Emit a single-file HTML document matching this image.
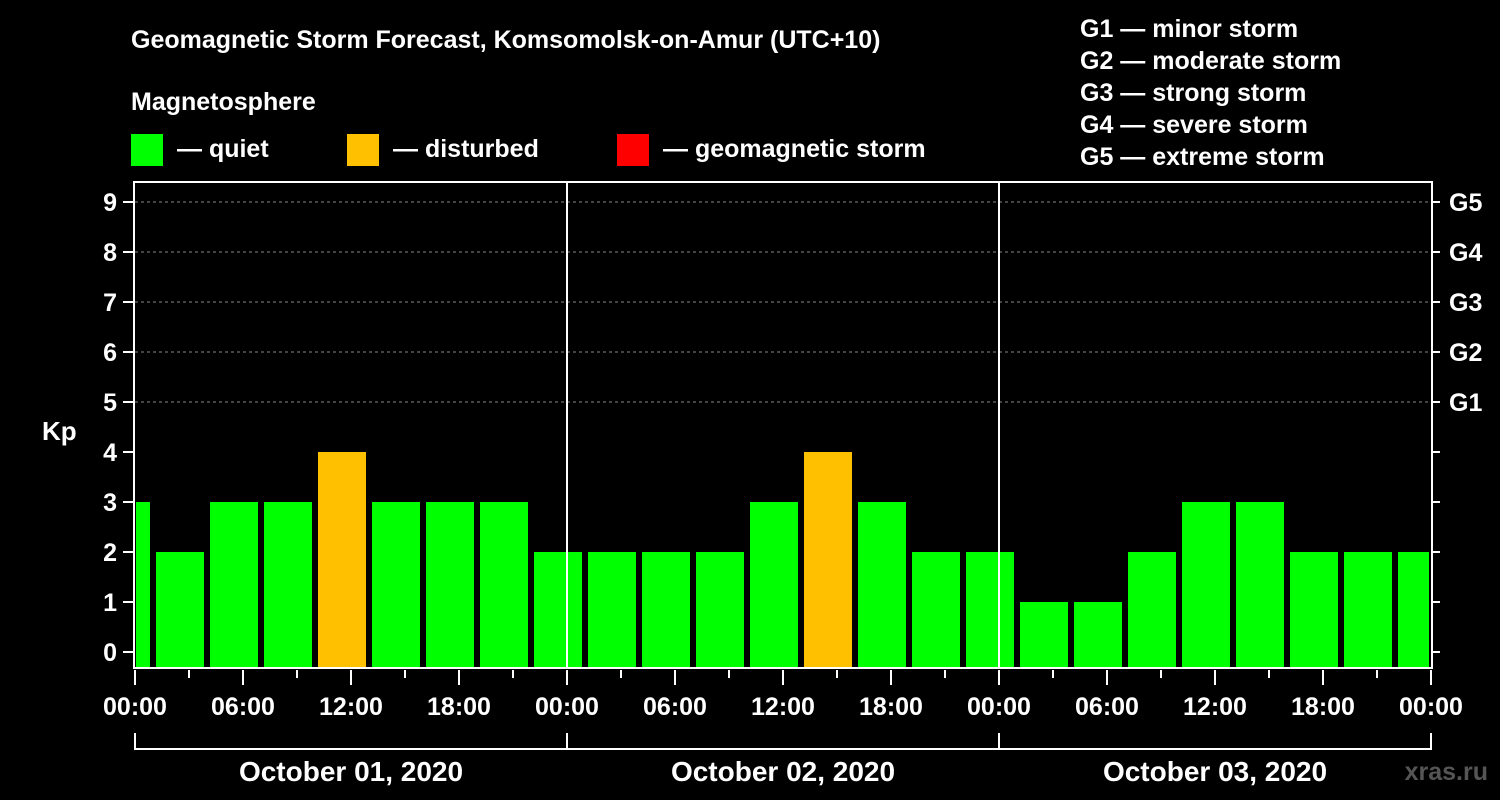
<!DOCTYPE html>
<html><head><meta charset="utf-8"><style>
html,body{margin:0;padding:0;background:#000;}
svg{display:block;font-family:"Liberation Sans",Arial,sans-serif;font-weight:bold;}
</style></head><body>
<svg id="c" width="1500" height="800" xmlns="http://www.w3.org/2000/svg">
<rect width="1500" height="800" fill="#000"/>
<text x="131" y="48" fill="#fff" font-size="25">Geomagnetic Storm Forecast, Komsomolsk-on-Amur (UTC+10)</text>
<text x="131" y="110" fill="#fff" font-size="25">Magnetosphere</text>
<g><rect x="131" y="134" width="32" height="32" fill="#00ff00"/><text x="177" y="157" fill="#fff" font-size="25">— quiet</text></g>
<g><rect x="347" y="134" width="32" height="32" fill="#ffc000"/><text x="393" y="157" fill="#fff" font-size="25">— disturbed</text></g>
<g><rect x="617" y="134" width="32" height="32" fill="#ff0000"/><text x="663" y="157" fill="#fff" font-size="25">— geomagnetic storm</text></g>
<g fill="#fff" font-size="25">
<text x="1080" y="37">G1 — minor storm</text><text x="1080" y="69">G2 — moderate storm</text><text x="1080" y="101">G3 — strong storm</text><text x="1080" y="133">G4 — severe storm</text><text x="1080" y="165">G5 — extreme storm</text>
</g>
<text x="42" y="440" fill="#fff" font-size="26">Kp</text>
<text x="1488" y="780" fill="#555" font-size="25" text-anchor="end">xras.ru</text>
<g id="grid"></g><g id="bars"></g><g id="axes"></g>
</svg>
<script>
const kpValues=[3,2,3,3,4,3,3,3,2,2,2,2,3,4,3,2,2,1,1,2,3,3,2,2,2];
const yTicks=[0,1,2,3,4,5,6,7,8,9];
const gLabels=["G1","G2","G3","G4","G5"];
const gLevels=[5,6,7,8,9];
const xLabels=["00:00","06:00","12:00","18:00","00:00","06:00","12:00","18:00","00:00","06:00","12:00","18:00","00:00"];
const dayLabels=["October 01, 2020","October 02, 2020","October 03, 2020"];
const firstBinStartHour=-2;
const NS="http://www.w3.org/2000/svg";
const L=135,R=1432,T=182,B=668;
const x=h=>L+h*18;
const y=v=>652-v*50;
function mk(tag,attrs,parent,txt){const e=document.createElementNS(NS,tag);for(const k in attrs)e.setAttribute(k,attrs[k]);if(txt!==undefined)e.textContent=txt;parent.appendChild(e);return e;}
const grid=document.getElementById('grid'),bars=document.getElementById('bars'),axes=document.getElementById('axes');
gLevels.forEach((g,i)=>{const l=mk('line',{x1:L,x2:R,y1:y(g),y2:y(g),stroke:'#888','stroke-dasharray':'3,3','stroke-width':1},grid);

});
const clip=mk('clipPath',{id:'pc'},document.getElementById('c'));mk('rect',{x:L+1,y:T,width:R-L-4,height:B-T},clip);
bars.setAttribute('clip-path','url(#pc)');
kpValues.forEach((v,i)=>{const h0=firstBinStartHour+i*3;const x0=x(h0)+3,x1=x(h0+3)-3;
const col=v>=5?'#ff0000':(v>=4?'#ffc000':'#00ff00');
const r=mk('rect',{x:x0,y:y(v),width:x1-x0,height:B-y(v),fill:col},bars);

});
[1,2].forEach(d=>{const l=mk('line',{x1:x(d*24),x2:x(d*24),y1:T,y2:B,stroke:'#fff','stroke-width':2},axes);

});
const fr=mk('rect',{x:L-1,y:T,width:R-L+1,height:B-T,fill:'none',stroke:'#fff','stroke-width':2},axes);


yTicks.forEach(v=>{mk('line',{x1:L-12,x2:L-2,y1:y(v),y2:y(v),stroke:'#fff','stroke-width':2},axes);
mk('line',{x1:R,x2:R+8,y1:y(v),y2:y(v),stroke:'#fff','stroke-width':2},axes);
const t=mk('text',{x:L-18,y:y(v)+9,fill:'#fff','font-size':25,'text-anchor':'end'},axes,String(v));

});
gLabels.forEach((g,i)=>{const t=mk('text',{x:1449,y:y(gLevels[i])+9,fill:'#fff','font-size':25},axes,g);

});
for(let h=0;h<=72;h+=3){const maj=h%6===0;mk('line',{x1:x(h),x2:x(h),y1:B+2,y2:maj?B+17:B+10,stroke:'#fff','stroke-width':2},axes);}
xLabels.forEach((s,i)=>{const t=mk('text',{x:x(i*6),y:715,fill:'#fff','font-size':25,'text-anchor':'middle'},axes,s);

});
mk('line',{x1:x(0),x2:x(72),y1:749,y2:749,stroke:'#fff','stroke-width':2},axes);
for(let d=0;d<=3;d++)mk('line',{x1:x(d*24),x2:x(d*24),y1:733,y2:750,stroke:'#fff','stroke-width':2},axes);
dayLabels.forEach((s,i)=>{const t=mk('text',{x:x(i*24+12),y:781,fill:'#fff','font-size':28,'text-anchor':'middle'},axes,s);

});
</script>
</body></html>
